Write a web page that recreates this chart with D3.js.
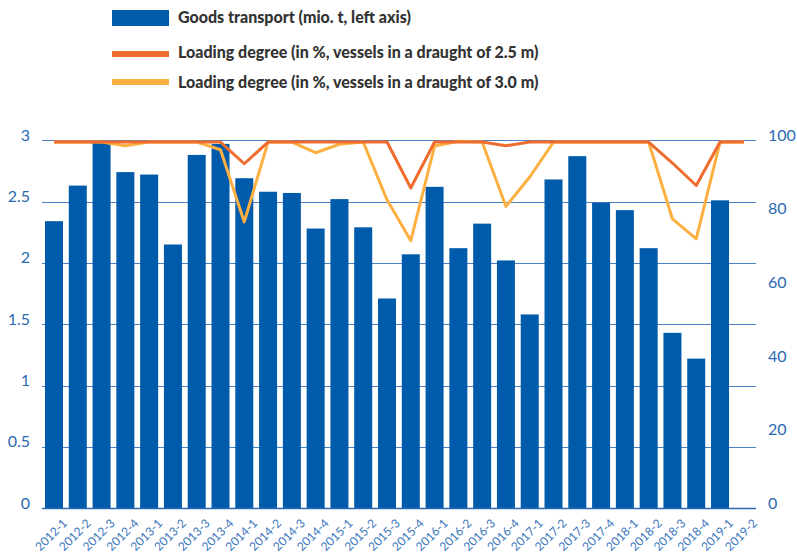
<!DOCTYPE html>
<html><head><meta charset="utf-8">
<script src="https://cdn.jsdelivr.net/npm/d3@7"></script>
<style>body{margin:0;background:#fff;}svg{display:block;}</style>
</head><body>
<svg id="c" width="797" height="556"></svg>
<script>
const categories = ["2012-1","2012-2","2012-3","2012-4","2013-1","2013-2","2013-3","2013-4","2014-1","2014-2","2014-3","2014-4","2015-1","2015-2","2015-3","2015-4","2016-1","2016-2","2016-3","2016-4","2017-1","2017-2","2017-3","2017-4","2018-1","2018-2","2018-3","2018-4","2019-1","2019-2"];
const goodsTransport = [2.34,2.63,2.99,2.74,2.72,2.15,2.88,2.97,2.69,2.58,2.57,2.28,2.52,2.29,1.71,2.07,2.62,2.12,2.32,2.02,1.58,2.68,2.87,2.49,2.43,2.12,1.43,1.22,2.51,null];
const loading25 = [99.5,99.5,99.5,99.5,99.5,99.5,99.5,99.5,93.6,99.5,99.5,99.5,99.5,99.5,99.5,87,99.5,99.5,99.5,98.5,99.5,99.5,99.5,99.5,99.5,99.5,93.8,87.7,99.5,99.5];
const loading30 = [99.5,99.5,99.5,98.5,99.5,99.5,99.5,97.4,77.8,99.5,99.5,96.6,98.9,99.5,83.8,72.7,98.4,99.7,99.5,82,90,99.5,99.5,99.5,99.5,99.5,78.6,73.2,99.5,99.5];
const leftTicks = [0,0.5,1,1.5,2,2.5,3];
const rightTicks = [0,20,40,60,80,100];
const legendLabels = ["Goods transport (mio. t, left axis)","Loading degree (in %, vessels in a draught of 2.5 m)","Loading degree (in %, vessels in a draught of 3.0 m)"];

const BLUE="#005baa", ORANGE="#ef6c2f", YELLOW="#fdb042", AXIS="#2b69b2", GRID="#4a7fc1";
const svg = d3.select("#c");
const x = d3.scaleBand().domain(categories).range([42.1,755.7]).paddingInner(0.243).paddingOuter(0.1215);
const yL = d3.scaleLinear().domain([0,3]).range([508.3,140.2]);
const yR = d3.scaleLinear().domain([0,100]).range([508.3,140.2]);

// gridlines
svg.append("g").selectAll("line").data(leftTicks.slice(1)).join("line")
  .attr("x1",42).attr("x2",756).attr("y1",d=>Math.round(yL(d))+0.5).attr("y2",d=>Math.round(yL(d))+0.5)
  .attr("stroke",GRID).attr("stroke-width",1);

// bars
svg.append("g").selectAll("rect").data(categories.map((c,i)=>({c,v:goodsTransport[i]})).filter(d=>d.v!=null)).join("rect")
  .attr("x",d=>x(d.c)).attr("width",x.bandwidth()).attr("y",d=>yL(d.v)).attr("height",d=>yL(0)-yL(d.v)).attr("fill",BLUE);

// baseline
svg.append("line").attr("x1",42).attr("x2",756).attr("y1",508.5).attr("y2",508.5).attr("stroke",AXIS).attr("stroke-width",1.5);

// lines
const line = d3.line().x((d,i)=>x(categories[i])+x.bandwidth()/2).y(d=>yR(d));
svg.append("path").datum(loading30).attr("d",line).attr("fill","none").attr("stroke",YELLOW).attr("stroke-width",3).attr("stroke-linejoin","round");
svg.append("path").datum(loading25).attr("d",line).attr("fill","none").attr("stroke",ORANGE).attr("stroke-width",3).attr("stroke-linejoin","round");

// left axis
const fmt = d=>String(d);
svg.append("g").selectAll("text").data(leftTicks).join("text")
  .attr("x",30).attr("y",d=>yL(d)+0.5).attr("text-anchor","end")
  .attr("font-family","Lato").attr("font-size",16).attr("fill",AXIS).text(fmt);
// right axis
svg.append("g").selectAll("text").data(rightTicks).join("text")
  .attr("x",768).attr("y",d=>yR(d)+0.5).attr("text-anchor","start")
  .attr("font-family","Lato").attr("font-size",16).attr("fill",AXIS).text(fmt);

// x labels
svg.append("g").selectAll("text").data(categories).join("text")
  .attr("transform",d=>`translate(${x(d)+x.bandwidth()/2+14},${524}) rotate(-45)`)
  .attr("text-anchor","end").attr("font-family","Lato").attr("font-size",12).attr("fill","#3a76bd").text(d=>d);

// legend
const lg = svg.append("g");
lg.append("rect").attr("x",112).attr("y",10).attr("width",57).attr("height",16).attr("fill",BLUE);
lg.append("rect").attr("x",112).attr("y",51).attr("width",57).attr("height",6).attr("fill",ORANGE);
lg.append("rect").attr("x",112).attr("y",79).attr("width",57).attr("height",6).attr("fill",YELLOW);
lg.selectAll("text").data(legendLabels).join("text")
  .attr("x",178).attr("y",(d,i)=>[23,58,88][i])
  .attr("font-family","Lato").attr("font-weight","900").attr("font-size",16).attr("fill","#333").text(d=>d);
</script>
</body></html>
